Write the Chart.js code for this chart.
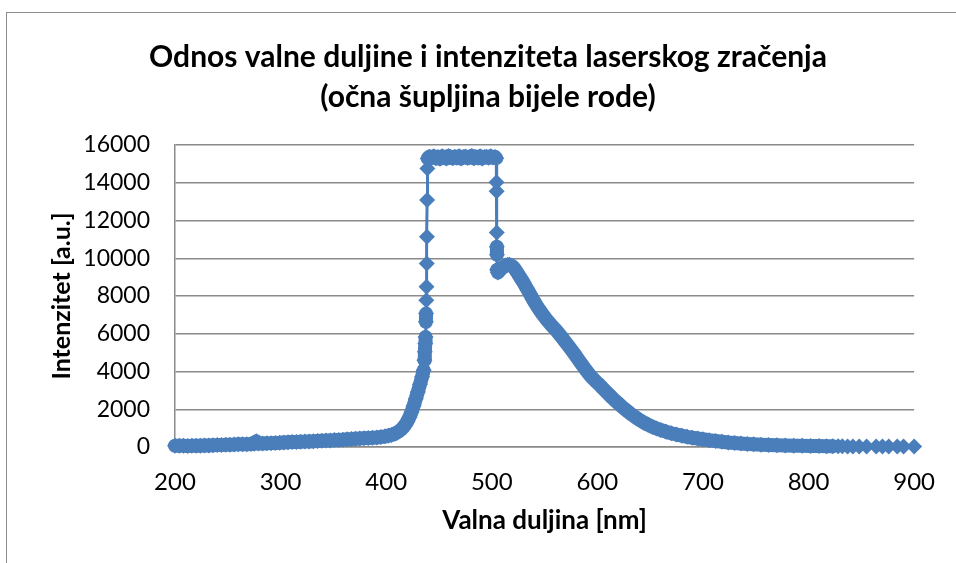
<!DOCTYPE html>
<html>
<head>
<meta charset="utf-8">
<script src="https://cdn.jsdelivr.net/npm/chart.js@4.4.1/dist/chart.umd.min.js"></script>
<style>
  html, body { margin: 0; padding: 0; background: #fff; overflow: hidden; }
  #frame { position: absolute; left: 6px; top: 12px; width: 1100px; height: 700px; border: 1.5px solid #8c8c8c; }
  #chart { position: absolute; left: 0; top: 0; }
</style>
</head>
<body>
<div id="frame"></div>
<canvas id="chart" width="956" height="563"></canvas>
<script>
// values (wavelength in nm, intensity in a.u.)
const titleLines = ['Odnos valne duljine i intenziteta laserskog zračenja', '(očna šupljina bijele rode)'];
const xTitle = 'Valna duljina [nm]';
const yTitle = 'Intenzitet [a.u.]';

const wavelength = [
  200, 204, 208, 212, 216, 220, 224, 228, 232, 236, 240, 244, 248, 252, 256, 260, 264, 268, 272, 275,
  277, 279, 283, 287, 291, 295, 299, 303, 307, 311, 315, 319, 323, 327, 331, 335, 339, 343, 347, 351,
  355, 359, 363, 367, 371, 375, 379, 383, 387, 391, 395, 399, 402, 405, 408, 410, 412, 414, 416, 418,
  420, 422, 424, 426, 428, 430, 432, 434, 435.5, 436.2, 436.6, 437.0, 437.3, 437.6, 437.8, 438.0, 438.2, 438.4, 438.6, 438.8,
  439.0, 439.3,
  441, 443, 445, 447, 449, 451, 453, 455, 457, 459, 461, 463, 465, 467, 469, 471, 473, 475, 477, 479,
  481, 483, 485, 487, 489, 491, 493, 495, 497, 499, 501, 503, 504.3,
  504.5, 504.6, 504.7, 504.8, 504.9, 505.1, 505.8, 507, 509, 511, 513, 515, 517, 519, 521,
  524, 527, 530, 533, 536, 539, 542, 545, 548, 551, 554, 557, 560, 563, 566, 569, 572, 575, 578, 581,
  584, 587, 590, 593, 596, 599, 602, 605, 608, 611, 614, 617, 620, 624, 628, 632, 636, 640, 644, 648,
  652, 656, 660, 665, 670, 675, 680, 685, 690, 695, 700, 706, 712, 718, 724, 730, 736, 742, 748, 755,
  762, 770, 778, 786, 794, 802, 810, 817,
  823, 828, 832, 837, 842, 848, 855, 864, 870, 876, 884, 890, 900
];
const intensity = [
  70, 60, 60, 55, 60, 65, 70, 80, 85, 95, 100, 110, 115, 125, 130, 140, 145, 150, 160, 170,
  300, 180, 185, 195, 205, 215, 225, 240, 250, 260, 265, 275, 285, 295, 305, 315, 325, 340, 350, 365,
  375, 390, 405, 420, 440, 455, 470, 480, 490, 505, 530, 565, 600, 640, 700, 760, 830, 920, 1030, 1170,
  1350, 1580, 1850, 2180, 2550, 2920, 3320, 3720, 4070, 4600, 5040, 5480, 5830, 6630, 7070, 7780, 8490, 9720, 11140, 13080,
  14760, 15290,
  15380, 15320, 15410, 15300, 15360, 15270, 15400, 15340, 15290, 15420, 15350, 15300, 15380, 15330, 15410, 15280, 15360, 15390, 15310, 15350,
  15420, 15300, 15370, 15330, 15400, 15290, 15360, 15380, 15320, 15400, 15340, 15370, 15300,
  14030, 13550, 11360, 10610, 10190, 9390, 9250, 9320, 9440, 9540, 9610, 9650, 9650, 9600, 9500,
  9250, 8980, 8720, 8420, 8130, 7820, 7540, 7280, 7040, 6820, 6610, 6420, 6240, 6050, 5840, 5620, 5400, 5180, 4960, 4720,
  4480, 4250, 4020, 3800, 3620, 3450, 3300, 3120, 2950, 2780, 2610, 2450, 2300, 2100, 1920, 1740, 1580, 1430, 1300, 1180,
  1070, 980, 900, 810, 730, 660, 600, 540, 490, 450, 410, 360, 320, 280, 240, 210, 185, 160, 140, 120,
  105, 90, 80, 70, 60, 55, 50, 45,
  40, 35, 35, 30, 30, 30, 25, 25, 25, 20, 20, 20, 20
];
const xTicks = [200, 300, 400, 500, 600, 700, 800, 900];
const yTicks = [0, 2000, 4000, 6000, 8000, 10000, 12000, 14000, 16000];

const BLUE = '#4a7ebb';
const GRID = '#8a8a8a';
const FONT = 'Lato, "Open Sans", sans-serif';

const points = wavelength.map((w, i) => ({ x: w, y: intensity[i] }));

// dense stretches are drawn as a fat band, jumps and the sparse tail as a thin line
function segWidth(c) {
  const i = c.p0DataIndex, j = c.p1DataIndex;
  if (wavelength[i] >= 823) return 3;
  if (Math.abs(intensity[j] - intensity[i]) > 450 && wavelength[j] - wavelength[i] < 1) return 3;
  return 14;
}

// excel centres the title over the whole chart frame, not the plot
const frameTitle = {
  id: 'frameTitle',
  afterDraw(chart) {
    const ctx = chart.ctx;
    ctx.save();
    ctx.fillStyle = '#000';
    ctx.font = 'bold 30px ' + FONT;
    ctx.textAlign = 'center';
    ctx.textBaseline = 'middle';
    ctx.fillText(titleLines[0], 488, 57);
    ctx.fillText(titleLines[1], 488, 97);
    ctx.restore();
  }
};

new Chart(document.getElementById('chart').getContext('2d'), {
  type: 'scatter',
  data: {
    datasets: [{
      data: points,
      showLine: true,
      borderColor: BLUE,
      backgroundColor: BLUE,
      borderWidth: 3,
      borderCapStyle: 'round',
      borderJoinStyle: 'round',
      pointStyle: 'rectRot',
      pointRadius: 8,
      pointBorderWidth: 0,
      pointBackgroundColor: BLUE,
      clip: 12,
      segment: { borderWidth: segWidth }
    }]
  },
  options: {
    responsive: false,
    animation: false,
    devicePixelRatio: 1,
    layout: { padding: { left: 0, right: 41, top: 145, bottom: 0 } },
    plugins: {
      legend: { display: false },
      tooltip: { enabled: false },
      title: { display: false }
    },
    scales: {
      x: {
        type: 'linear',
        min: 200, max: 900,
        afterFit: s => { s.height = 116; },
        afterBuildTicks: s => { s.ticks = xTicks.map(v => ({ value: v })); },
        grid: { display: false, drawTicks: false },
        border: { display: true, color: GRID, width: 1.5 },
        ticks: { color: '#000', font: { family: FONT, size: 24 }, padding: 21, maxRotation: 0, callback: v => String(v) },
        title: { display: true, text: xTitle, color: '#000', font: { family: FONT, size: 26, weight: 'bold' }, padding: { top: 0, bottom: 27 } }
      },
      y: {
        type: 'linear',
        min: 0, max: 16000,
        afterFit: s => { s.width = 175; },
        afterBuildTicks: s => { s.ticks = yTicks.map(v => ({ value: v })); },
        grid: { color: GRID, lineWidth: 1.5, drawTicks: false },
        border: { display: true, color: GRID, width: 1.5 },
        ticks: { color: '#000', font: { family: FONT, size: 23 }, padding: 25, callback: v => String(v) },
        title: { display: true, text: yTitle, color: '#000', font: { family: FONT, size: 25, weight: 'bold' }, padding: { top: 47, bottom: 0 } }
      }
    }
  },
  plugins: [frameTitle]
});
</script>
</body>
</html>
